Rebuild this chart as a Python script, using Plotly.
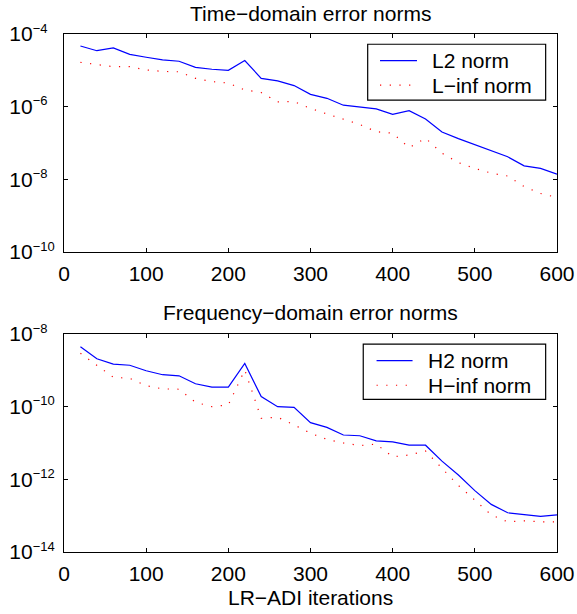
import plotly.graph_objects as go

iters = list(range(20, 601, 20))

l2_exp = [-4.33, -4.46, -4.385, -4.56, -4.64, -4.71, -4.75, -4.92, -4.97, -5.00,
          -4.73, -5.22, -5.29, -5.42, -5.66, -5.77, -5.96, -6.02, -6.06, -6.21,
          -6.11, -6.34, -6.70, -6.88, -7.04, -7.21, -7.38, -7.63, -7.70, -7.86]
linf_exp = [-4.78, -4.84, -4.90, -4.90, -4.99, -5.03, -5.04, -5.22, -5.31, -5.35,
            -5.54, -5.61, -5.87, -5.86, -6.05, -6.20, -6.35, -6.49, -6.69, -6.73,
            -7.13, -6.87, -7.28, -7.54, -7.70, -7.83, -7.91, -8.20, -8.39, -8.50]
h2_exp = [-8.35, -8.68, -8.83, -8.86, -9.01, -9.12, -9.15, -9.37, -9.46, -9.46,
          -8.81, -9.72, -10.00, -10.02, -10.44, -10.57, -10.78, -10.80, -10.94, -10.97,
          -11.06, -11.06, -11.50, -11.88, -12.31, -12.69, -12.92, -12.98, -13.02, -12.98]
hinf_exp = [-8.53, -8.85, -9.19, -9.22, -9.42, -9.51, -9.52, -9.88, -10.00, -9.95,
            -8.99, -10.32, -10.29, -10.50, -10.73, -10.90, -11.00, -11.07, -11.03, -11.38,
            -11.33, -11.22, -11.70, -12.17, -12.57, -12.98, -13.17, -13.14, -13.17, -13.17]

top_tick_exps = [-10, -8, -6, -4]
bottom_tick_exps = [-14, -12, -10, -8]
x_ticks = [0, 100, 200, 300, 400, 500, 600]

legend_top = ["L2 norm", "L\u2212inf norm"]
legend_bottom = ["H2 norm", "H\u2212inf norm"]

l2 = [10 ** e for e in l2_exp]
linf = [10 ** e for e in linf_exp]
h2 = [10 ** e for e in h2_exp]
hinf = [10 ** e for e in hinf_exp]

FONT = "Liberation Sans, Arial, sans-serif"
BLUE = "rgb(0,0,255)"
RED = "rgb(255,0,0)"
DOT = "1.2px,8.5px"


def exp_label(e):
    s = "\u2212" + str(abs(e))
    pad = "\u2007" * (2 - len(str(abs(e))))  # left-align the "10" like the original
    return f"10<sup><span style='font-size:13px'>{s}{pad}</span></sup>"


fig = go.Figure()
fig.add_trace(go.Scatter(x=iters, y=l2, mode="lines", name=legend_top[0],
                         line=dict(color=BLUE, width=1.2), xaxis="x", yaxis="y"))
fig.add_trace(go.Scatter(x=iters, y=linf, mode="lines", name=legend_top[1],
                         line=dict(color=RED, width=1.2, dash=DOT), xaxis="x", yaxis="y"))
fig.add_trace(go.Scatter(x=iters, y=h2, mode="lines", name=legend_bottom[0],
                         line=dict(color=BLUE, width=1.2), xaxis="x2", yaxis="y2"))
fig.add_trace(go.Scatter(x=iters, y=hinf, mode="lines", name=legend_bottom[1],
                         line=dict(color=RED, width=1.2, dash=DOT), xaxis="x2", yaxis="y2"))

xcommon = dict(range=[0, 600], tickvals=x_ticks,
               ticks="inside", ticklen=4, tickcolor="black", showline=True, linecolor="black",
               linewidth=1.2, mirror="ticks", showgrid=False, zeroline=False, automargin=False,
               ticklabelstandoff=3,
               tickfont=dict(family=FONT, size=21, color="black"))
ycommon = dict(type="log",
               ticks="inside", ticklen=4, tickcolor="black", showline=True, linecolor="black",
               linewidth=1.2, mirror="ticks", showgrid=False, zeroline=False, automargin=False,
               ticklabelstandoff=4,
               tickfont=dict(family=FONT, size=21, color="black"))


def manual_legend(xa, ya, labels, box, lx, tx, rows):
    shapes = [dict(type="rect", xref=f"{xa} domain", yref=f"{ya} domain",
                   x0=box[0], x1=box[1], y0=box[2], y1=box[3],
                   line=dict(color="black", width=1.2), fillcolor="white", layer="above")]
    styles = [dict(color=BLUE, width=1.2), dict(color=RED, width=1.2, dash=DOT)]
    anns = []
    for lab, ry, st in zip(labels, rows, styles):
        shapes.append(dict(type="line", xref=f"{xa} domain", yref=f"{ya} domain",
                           x0=lx[0], x1=lx[1], y0=ry, y1=ry, line=st, layer="above"))
        anns.append(dict(text=lab, xref=f"{xa} domain", yref=f"{ya} domain", x=tx, y=ry,
                         xanchor="left", yanchor="middle", showarrow=False,
                         font=dict(family=FONT, size=21, color="black")))
    return shapes, anns


s1, a1 = manual_legend("x", "y", legend_top, (0.616, 0.977, 0.697, 0.953),
                       (0.641, 0.716), 0.742, (0.878, 0.765))
s2, a2 = manual_legend("x2", "y2", legend_bottom, (0.607, 0.977, 0.700, 0.954),
                       (0.634, 0.707), 0.734, (0.878, 0.765))

fig.update_layout(
    width=577, height=614,
    margin=dict(l=64, r=20, t=34, b=62, autoexpand=False),
    paper_bgcolor="white", plot_bgcolor="white",
    showlegend=False,
    xaxis=dict(domain=[0, 1], anchor="y", **xcommon),
    yaxis=dict(domain=[0.5792, 1], anchor="x", range=[-10, -4],
               tickvals=[10 ** e for e in top_tick_exps],
               ticktext=[exp_label(e) for e in top_tick_exps], **ycommon),
    xaxis2=dict(domain=[0, 1], anchor="y2", **xcommon),
    yaxis2=dict(domain=[0, 0.4208], anchor="x2", range=[-14, -8],
                tickvals=[10 ** e for e in bottom_tick_exps],
                ticktext=[exp_label(e) for e in bottom_tick_exps], **ycommon),
    shapes=s1 + s2,
    annotations=a1 + a2 + [
        dict(text="Time\u2212domain error norms", x=0.5, y=1, xref="paper", yref="paper",
             yanchor="middle", yshift=21, showarrow=False,
             font=dict(family=FONT, size=21, color="black")),
        dict(text="Frequency\u2212domain error norms", x=0.5, y=0.4208, xref="paper", yref="paper",
             yanchor="middle", yshift=22, showarrow=False,
             font=dict(family=FONT, size=21, color="black")),
        dict(text="LR\u2212ADI iterations", x=0.5, y=0, xref="paper", yref="paper",
             yanchor="middle", yshift=-45, showarrow=False,
             font=dict(family=FONT, size=21, color="black")),
    ],
)

fig.write_html("out.html", config={"displayModeBar": False},
               post_script="document.body.style.margin='0';document.body.style.overflow='hidden';")
